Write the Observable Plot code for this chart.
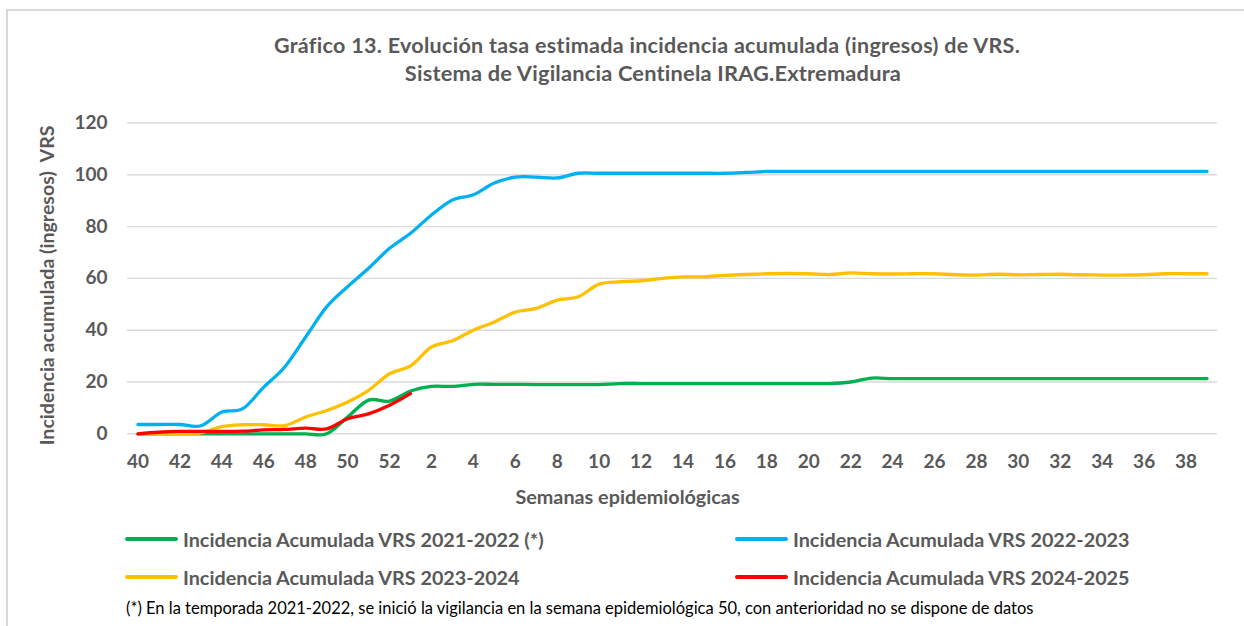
<!DOCTYPE html>
<html><head><meta charset="utf-8">
<script src="https://cdn.jsdelivr.net/npm/d3@7"></script>
<script src="https://cdn.jsdelivr.net/npm/@observablehq/plot@0.6"></script>
<style>
body{margin:0;background:#fff;}
#wrap{position:relative;width:1244px;height:626px;overflow:hidden;font-family:Lato,sans-serif;background:#fff;}
#frame{position:absolute;left:6px;top:9px;width:1300px;height:700px;border-left:2px solid #d9d9d9;border-top:2px solid #d9d9d9;}
#title{position:absolute;left:50px;right:0;top:32px;text-align:center;font-weight:bold;color:#595959;}
#title div{height:27px;line-height:27px;white-space:nowrap;}
#title .l1{font-size:21.5px;letter-spacing:0.3px;}
#title .l2{font-size:21.8px;letter-spacing:0.2px;padding-left:12px;}
#chart{position:absolute;left:0;top:0;}
.leg{position:absolute;font-weight:bold;font-size:19.8px;color:#595959;display:flex;align-items:center;height:30px;white-space:nowrap;}
.sw{display:inline-block;width:53px;height:3.5px;border-radius:2px;margin-right:5px;}
#note{position:absolute;left:126px;top:597px;font-size:16.5px;color:#000;line-height:22px;white-space:nowrap;}
</style>
</head><body>
<div id="wrap">
  <div id="frame"></div>
  <div id="chart"></div>
  <div id="title"><div class="l1">Gráfico 13. Evolución tasa estimada incidencia acumulada (ingresos) de VRS.</div><div class="l2">Sistema de Vigilancia Centinela IRAG.Extremadura</div></div>
  <div id="legend"></div>
  <div id="note">(*) En la temporada 2021-2022, se inició la vigilancia en la semana epidemiológica 50, con anterioridad no se dispone de datos</div>
</div>
<script>
// Epidemiological weeks (categories)
const weeks = [40,41,42,43,44,45,46,47,48,49,50,51,52,1,2,3,4,5,6,7,8,9,10,11,12,13,14,15,16,17,18,19,20,21,22,23,24,25,26,27,28,29,30,31,32,33,34,35,36,37,38,39];
const xTickWeeks = [40,42,44,46,48,50,52,2,4,6,8,10,12,14,16,18,20,22,24,26,28,30,32,34,36,38];
const yTicks = [0,20,40,60,80,100,120];
const xTitle = "Semanas epidemiológicas";
const yTitle = "Incidencia acumulada (ingresos)  VRS";

const seriesNames = [
  "Incidencia Acumulada VRS 2021-2022 (*)",
  "Incidencia Acumulada VRS 2022-2023",
  "Incidencia Acumulada VRS 2023-2024",
  "Incidencia Acumulada VRS 2024-2025"
];
const seriesColors = ["#00B050","#00B0F0","#FFC000","#FF0000"];

const v2021 = [0,0,0,0,0,0,0,0,0,0,6.5,13.0,12.6,16.5,18.3,18.3,19.1,19.1,19.1,19.0,19.0,19.0,19.0,19.4,19.4,19.4,19.4,19.4,19.4,19.4,19.4,19.4,19.4,19.4,20.0,21.5,21.3,21.3,21.3,21.3,21.3,21.3,21.3,21.3,21.3,21.3,21.3,21.3,21.3,21.3,21.3,21.3];
const v2022 = [3.6,3.6,3.6,3.1,8.4,9.7,18.0,25.8,37.4,49.0,56.8,63.9,71.6,77.4,84.5,90.3,92.3,96.8,99.1,99.1,98.8,100.6,100.6,100.6,100.6,100.6,100.6,100.6,100.6,100.9,101.3,101.3,101.3,101.3,101.3,101.3,101.3,101.3,101.3,101.3,101.3,101.3,101.3,101.3,101.3,101.3,101.3,101.3,101.3,101.3,101.3,101.3];
const v2023 = [0,0,0,0.4,2.8,3.5,3.5,3.2,6.5,9.0,12.3,16.8,23.2,26.2,33.5,35.9,40.0,43.2,47.0,48.4,51.6,52.9,57.8,58.7,59.1,60.0,60.6,60.6,61.2,61.5,61.8,61.9,61.8,61.5,62.1,61.8,61.7,61.8,61.8,61.4,61.3,61.6,61.4,61.5,61.6,61.4,61.3,61.3,61.4,61.8,61.8,61.8];
const v2024 = [0,0.6,0.9,0.9,0.9,1.0,1.5,1.7,2.2,1.9,5.8,7.7,11.0,15.5];

const allValues = [v2021, v2022, v2023, v2024];
const rows = allValues.flatMap((vals, s) => vals.map((v, i) => ({i, v, s: seriesNames[s]})));

const chart = Plot.plot({
  width: 1244,
  height: 626,
  marginLeft: 127,
  marginRight: 27,
  marginTop: 122.5,
  marginBottom: 192.7,
  style: {fontFamily: "Lato, sans-serif", fontSize: "19px", fontWeight: "bold", color: "#595959", background: "transparent", overflow: "visible"},
  x: {domain: [-0.5, weeks.length - 0.5]},
  y: {domain: [0, 120]},
  color: {domain: seriesNames, range: seriesColors},
  marks: [
    Plot.gridY(yTicks, {stroke: "#d9d9d9", strokeOpacity: 1, strokeWidth: 1.4}),
    Plot.axisY(yTicks, {tickSize: 0, tickPadding: 20, fill: "#595959", label: null}),
    Plot.text([yTitle], {frameAnchor: "left", dx: -80, dy: 7, rotate: -90, textAnchor: "middle", lineAnchor: "middle", fontSize: 19.6, fontWeight: "bold", fill: "#595959"}),
    Plot.axisX(xTickWeeks.map(w => weeks.indexOf(w)), {tickSize: 0, tickPadding: 21, fill: "#595959", tickFormat: i => String(weeks[i]), label: null}),
    Plot.text([xTitle], {frameAnchor: "bottom", dx: -45, dy: 64, lineAnchor: "middle", fontSize: 19.8, fontWeight: "bold", fill: "#595959"}),
    Plot.lineY(rows, {x: "i", y: "v", z: "s", stroke: "s", strokeWidth: 3.3, curve: "cardinal", tension: 0, strokeLinecap: "round", strokeLinejoin: "round"})
  ]
});
document.getElementById("chart").appendChild(chart);

// Legend
const legPos = [[125, 524], [735, 524], [125, 562], [735, 562]];
const legend = document.getElementById("legend");
seriesNames.forEach((name, k) => {
  const d = document.createElement("div");
  d.className = "leg";
  d.style.left = legPos[k][0] + "px";
  d.style.top = legPos[k][1] + "px";
  d.innerHTML = `<span class="sw" style="background:${seriesColors[k]}"></span>${name}`;
  legend.appendChild(d);
});
</script>
</body></html>
